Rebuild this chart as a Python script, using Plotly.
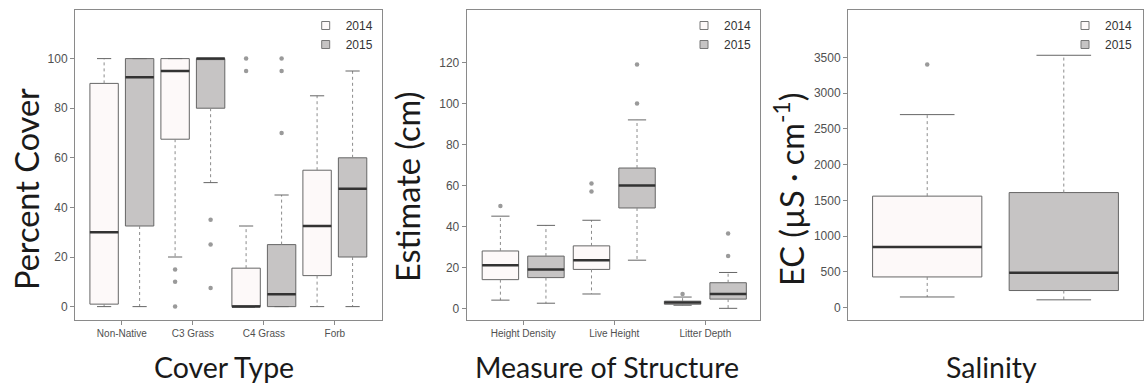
import plotly.graph_objects as go

# ---------------- data ----------------
years = ["2014", "2015"]

cover_types = ["Non-Native", "C3 Grass", "C4 Grass", "Forb"]
cover_2014_q1 = [1, 67.5, 0, 12.5]
cover_2014_med = [30, 95, 0, 32.5]
cover_2014_q3 = [90, 100, 15.5, 55]
cover_2014_lo = [0, 20, 0, 0]
cover_2014_hi = [100, 100, 32.5, 85]
cover_2014_out = [[], [15, 10, 0], [100, 95], []]
cover_2015_q1 = [32.5, 80, 0, 20]
cover_2015_med = [92.5, 100, 5, 47.5]
cover_2015_q3 = [100, 100, 25, 60]
cover_2015_lo = [0, 50, 0, 0]
cover_2015_hi = [100, 100, 45, 95]
cover_2015_out = [[], [35, 25, 7.5], [100, 95, 70], []]

structure_types = ["Height Density", "Live Height", "Litter Depth"]
struct_2014_q1 = [14, 19, 2]
struct_2014_med = [21, 23.5, 2.8]
struct_2014_q3 = [28, 30.5, 3.5]
struct_2014_lo = [4, 7, 1.5]
struct_2014_hi = [45, 43, 5.5]
struct_2014_out = [[50], [61, 57], [7]]
struct_2015_q1 = [15, 49, 4.5]
struct_2015_med = [19, 60, 7]
struct_2015_q3 = [25.5, 68.5, 12.5]
struct_2015_lo = [2.5, 23.5, 0]
struct_2015_hi = [40.5, 92, 17.5]
struct_2015_out = [[], [100, 119], [25.5, 36.5]]

sal_2014_q1 = [430]
sal_2014_med = [850]
sal_2014_q3 = [1560]
sal_2014_lo = [150]
sal_2014_hi = [2700]
sal_2014_out = [[3400]]
sal_2015_q1 = [240]
sal_2015_med = [490]
sal_2015_q3 = [1610]
sal_2015_lo = [110]
sal_2015_hi = [3530]
sal_2015_out = [[]]

# ---------------- styles ----------------
FILL = {"2014": "#fdf9f9", "2015": "#c6c4c4"}
BOX_LINE = "#666666"
MED_LINE = "#333333"
WHISK = "#8c8c8c"
OUT_COL = "#9a9a9a"
FRAME = "#8a8a8a"
SANS = "Liberation Sans, Arial, sans-serif"
TICKFONT = dict(family=SANS, size=12, color="#505050")
XTITLEFONT = dict(family="Lato, sans-serif", size=28.5, color="#1a1a1a")
YTITLEFONT = dict(family="Lato, sans-serif", size=32.5, color="#1a1a1a")

fig = go.Figure()


def add_group(xa, ya, year, pos, width, q1, med, q3, lo, hi, out):
    fig.add_trace(go.Box(
        x=pos, q1=q1, median=med, q3=q3, lowerfence=q1, upperfence=q3,
        width=width, whiskerwidth=0, fillcolor=FILL[year],
        line=dict(color=BOX_LINE, width=1), boxpoints=False,
        xaxis=xa, yaxis=ya, showlegend=False, hoverinfo="skip"))


def add_overlays(xa, ya, pos, width, q1, med, q3, lo, hi, out):
    wx, wy, cx, cy, mx, my, ox, oy = [], [], [], [], [], [], [], []
    for p, a, m, b, l, h, o in zip(pos, q1, med, q3, lo, hi, out):
        wx += [p, p, None, p, p, None]
        wy += [b, h, None, a, l, None]
        cx += [p - width / 4, p + width / 4, None, p - width / 4, p + width / 4, None]
        cy += [h, h, None, l, l, None]
        mx += [p - width / 2, p + width / 2, None]
        my += [m, m, None]
        ox += [p] * len(o)
        oy += list(o)
    fig.add_trace(go.Scatter(x=wx, y=wy, mode="lines", line=dict(color=WHISK, width=1, dash="dot"),
                             xaxis=xa, yaxis=ya, showlegend=False, hoverinfo="skip"))
    fig.add_trace(go.Scatter(x=cx, y=cy, mode="lines", line=dict(color=BOX_LINE, width=1),
                             xaxis=xa, yaxis=ya, showlegend=False, hoverinfo="skip"))
    fig.add_trace(go.Scatter(x=mx, y=my, mode="lines", line=dict(color=MED_LINE, width=2.5),
                             xaxis=xa, yaxis=ya, showlegend=False, hoverinfo="skip"))
    if ox:
        fig.add_trace(go.Scatter(x=ox, y=oy, mode="markers", marker=dict(color=OUT_COL, size=4.5),
                                 xaxis=xa, yaxis=ya, showlegend=False, hoverinfo="skip"))


panels = [
    ("x", "y", "legend", list(range(len(cover_types))), 0.4, 0.25, {
        "2014": (cover_2014_q1, cover_2014_med, cover_2014_q3, cover_2014_lo, cover_2014_hi, cover_2014_out),
        "2015": (cover_2015_q1, cover_2015_med, cover_2015_q3, cover_2015_lo, cover_2015_hi, cover_2015_out)}),
    ("x2", "y2", "legend2", list(range(len(structure_types))), 0.4, 0.25, {
        "2014": (struct_2014_q1, struct_2014_med, struct_2014_q3, struct_2014_lo, struct_2014_hi, struct_2014_out),
        "2015": (struct_2015_q1, struct_2015_med, struct_2015_q3, struct_2015_lo, struct_2015_hi, struct_2015_out)}),
    ("x3", "y3", "legend3", [1.5], 0.8, 0.5, {
        "2014": (sal_2014_q1, sal_2014_med, sal_2014_q3, sal_2014_lo, sal_2014_hi, sal_2014_out),
        "2015": (sal_2015_q1, sal_2015_med, sal_2015_q3, sal_2015_lo, sal_2015_hi, sal_2015_out)}),
]

for xa, ya, leg, base, width, off, stats in panels:
    for k, year in enumerate(years):
        sign = -1 if k == 0 else 1
        pos = [b + sign * off for b in base]
        add_group(xa, ya, year, pos, width, *stats[year])
for xa, ya, leg, base, width, off, stats in panels:
    for k, year in enumerate(years):
        sign = -1 if k == 0 else 1
        pos = [b + sign * off for b in base]
        add_overlays(xa, ya, pos, width, *stats[year])
        # legend-only entry
        fig.add_trace(go.Scatter(
            x=[None], y=[None], mode="markers", name=year, legend=leg,
            marker=dict(symbol="square", size=8, color=FILL[year], line=dict(color="#777777", width=1)),
            xaxis=xa, yaxis=ya, hoverinfo="skip"))

W, H = 1144, 387
ytop, ybot = 9.5, 320
ydom = [1 - ybot / H, 1 - ytop / H]
xdoms = [[75 / W, 381.7 / W], [466.7 / W, 760 / W], [848 / W, 1143 / W]]

common_x = dict(showline=True, mirror=True, linecolor=FRAME, linewidth=1, showgrid=False,
                zeroline=False, ticks="outside", ticklen=4, tickcolor=FRAME,
                tickfont=dict(family=SANS, size=10, color="#505050"))
common_y = dict(showline=True, mirror=True, linecolor=FRAME, linewidth=1, showgrid=False,
                zeroline=False, ticks="outside", ticklen=4, tickcolor=FRAME, tickfont=TICKFONT,
                domain=ydom)

fig.update_layout(
    width=W, height=H, margin=dict(l=0, r=0, t=0, b=0),
    paper_bgcolor="white", plot_bgcolor="white",
    xaxis=dict(common_x, domain=xdoms[0], range=[-0.66, 3.66], tickvals=list(range(len(cover_types))),
               ticktext=cover_types, anchor="y"),
    yaxis=dict(common_y, range=[-5.4, 119.8], tickvals=[0, 20, 40, 60, 80, 100], anchor="x"),
    xaxis2=dict(common_x, domain=xdoms[1], range=[-0.62, 2.6], tickvals=list(range(len(structure_types))),
                ticktext=structure_types, anchor="y2"),
    yaxis2=dict(common_y, range=[-5.7, 145.9], tickvals=[0, 20, 40, 60, 80, 100, 120], anchor="x2"),
    xaxis3=dict(common_x, domain=xdoms[2], range=[0.42, 2.58], showticklabels=False, ticks="", anchor="y3"),
    yaxis3=dict(common_y, range=[-172, 4170], tickvals=list(range(0, 3501, 500)), anchor="x3"),
)

leg_common = dict(bgcolor="rgba(0,0,0,0)", borderwidth=0, xanchor="right", yanchor="top",
                  font=dict(family=SANS, size=12, color="#333333"),
                  itemwidth=30, tracegroupgap=0)
fig.update_layout(
    legend=dict(leg_common, x=xdoms[0][1] - 3 / W, y=1 - 11 / H),
    legend2=dict(leg_common, x=xdoms[1][1] - 3 / W, y=1 - 11 / H),
    legend3=dict(leg_common, x=xdoms[2][1] - 5 / W, y=1 - 11 / H),
)

titles = [
    ("Percent Cover", 26, 189, -90, YTITLEFONT),
    ("Estimate (cm)", 407, 187, -90, YTITLEFONT),
    ("EC (µS · cm<sup>-1</sup>)", 789, 190, -90, YTITLEFONT),
    ("Cover Type", 224, 367, 0, XTITLEFONT),
    ("Measure of Structure", 607, 367, 0, XTITLEFONT),
    ("Salinity", 991, 367, 0, XTITLEFONT),
]
for txt, px, py, ang, fnt in titles:
    fig.add_annotation(text=txt, x=px / W, y=1 - py / H, xref="paper", yref="paper",
                       xanchor="center", yanchor="middle", textangle=ang, showarrow=False,
                       font=fnt)

fig.write_html("out.html", config={"displayModeBar": False},
               post_script="document.body.style.margin='0';")
